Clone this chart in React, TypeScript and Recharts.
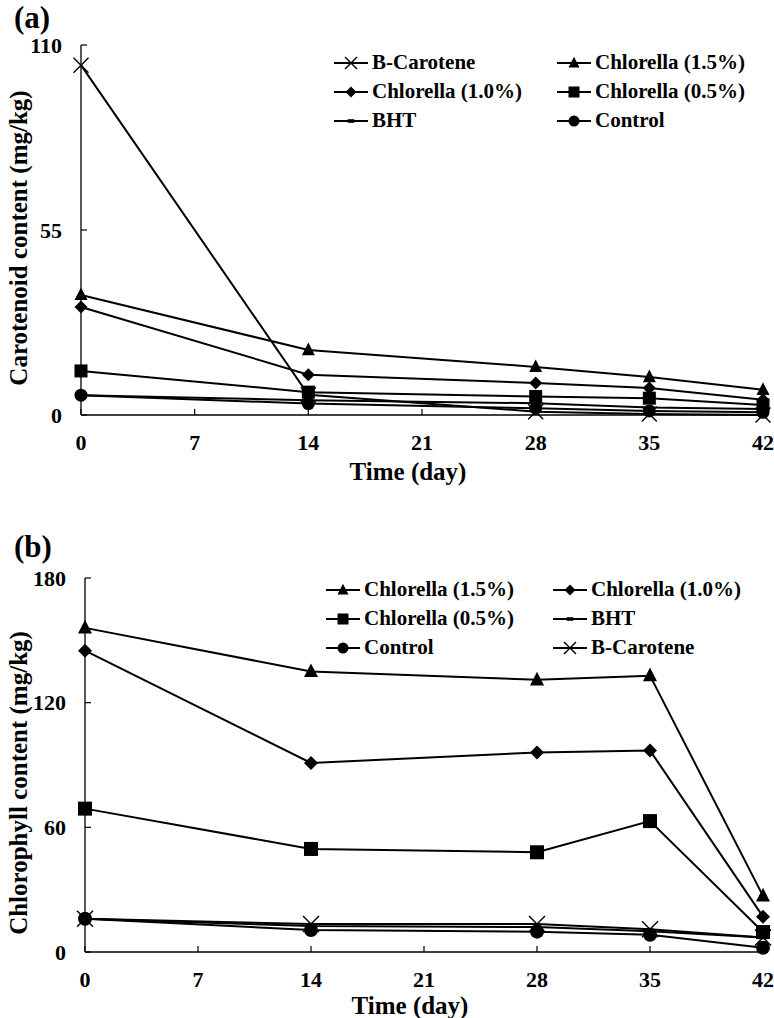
import React from "react";
import { LineChart, Line, XAxis, YAxis } from "recharts";

// sampling days
const days = [0, 14, 28, 35, 42];
const dayTicks = [0, 7, 14, 21, 28, 35, 42];

// (a) carotenoid content, mg/kg
const carBeta = [104, 6.0, 1.0, 0.3, 0];
const carChl15 = [35.7, 19.3, 14.3, 11.3, 7.5];
const carChl10 = [32.1, 12.0, 9.5, 8.0, 4.5];
const carChl05 = [13.1, 6.8, 5.5, 5.0, 3.0];
const carBht = [5.9, 4.4, 3.5, 2.2, 1.8];
const carControl = [5.9, 3.4, 2.0, 1.2, 0.8];
const carTicks = [0, 55, 110];

// (b) chlorophyll content, mg/kg
const chlChl15 = [156, 135, 131, 133, 27];
const chlChl10 = [145, 91, 96, 97, 17];
const chlChl05 = [69, 49.6, 48, 63, 9.6];
const chlBht = [16, 12.5, 12, 10, 7];
const chlControl = [16, 10.6, 9.8, 8.3, 2];
const chlBeta = [16, 13.5, 13.5, 11, 7];
const chlTicks = [0, 60, 120, 180];

const FONT = '"Liberation Serif", "Times New Roman", serif';

type Shape = "cross" | "triangle" | "diamond" | "square" | "dash" | "circle";

interface Series {
  key: string;
  name: string;
  shape: Shape;
  values: number[];
}

function Marker({ shape, cx, cy, s }: { shape: Shape; cx: number; cy: number; s: number }) {
  switch (shape) {
    case "triangle":
      return (
        <polygon
          points={`${cx},${cy - s * 1.15} ${cx - s},${cy + s * 0.8} ${cx + s},${cy + s * 0.8}`}
          fill="#000"
        />
      );
    case "diamond":
      return (
        <polygon
          points={`${cx},${cy - s} ${cx + s},${cy} ${cx},${cy + s} ${cx - s},${cy}`}
          fill="#000"
        />
      );
    case "square":
      return <rect x={cx - s} y={cy - s} width={s * 2} height={s * 2} fill="#000" />;
    case "circle":
      return <circle cx={cx} cy={cy} r={s} fill="#000" />;
    case "dash":
      return <rect x={cx - s * 0.6} y={cy - 1.8} width={s * 1.2} height={3.6} fill="#000" />;
    case "cross":
    default:
      return (
        <g stroke="#000" strokeWidth={1.4}>
          <line x1={cx - s} y1={cy - s} x2={cx + s} y2={cy + s} />
          <line x1={cx - s} y1={cy + s} x2={cx + s} y2={cy - s} />
        </g>
      );
  }
}

function LegendGrid({ items, colWidth }: { items: Series[]; colWidth: number }) {
  return (
    <div
      style={{
        display: "grid",
        gridTemplateColumns: `${colWidth}px ${colWidth}px`,
        fontFamily: FONT,
        fontWeight: "bold",
        fontSize: 21,
        color: "#000",
      }}
    >
      {items.map((it) => (
        <div key={it.key} style={{ display: "flex", alignItems: "center", height: 29 }}>
          <svg width={38} height={20} style={{ flex: "none" }}>
            <line x1={0} x2={34} y1={10} y2={10} stroke="#000" strokeWidth={2} />
            <Marker shape={it.shape} cx={17} cy={10} s={it.shape === "cross" ? 6 : 5.5} />
          </svg>
          <span style={{ whiteSpace: "nowrap" }}>{it.name}</span>
        </div>
      ))}
    </div>
  );
}

const tickFont = { fontFamily: FONT, fontWeight: "bold" as const, fontSize: 22 };

const XTick = ({ x, y, payload }: any) => (
  <text
    x={x}
    y={y}
    textAnchor="middle"
    dominantBaseline="central"
    fontFamily={FONT}
    fontWeight="bold"
    fontSize={22}
    style={tickFont}
    fill="#000"
  >
    {payload.value}
  </text>
);

const YTick = ({ x, y, payload }: any) => (
  <text
    x={x}
    y={y}
    textAnchor="end"
    dominantBaseline="central"
    fontFamily={FONT}
    fontWeight="bold"
    fontSize={22}
    style={tickFont}
    fill="#000"
  >
    {payload.value}
  </text>
);

interface PanelProps {
  tag: string;
  tagCenter: number;
  yLabel: string;
  series: Series[];
  yTicks: number[];
  height: number;
  plotTop: number;
  xAxisHeight: number;
  yAxisWidth: number;
  legendTop: number;
  legendLeft: number;
  legendCol: number;
  yLabelShift: number;
  xLabelDy: number;
  markerSize: number;
}

function Panel(p: PanelProps) {
  const rows = days.map((d, i) => {
    const r: Record<string, number> = { day: d };
    p.series.forEach((s) => (r[s.key] = s.values[i]));
    return r;
  });
  const yMax = p.yTicks[p.yTicks.length - 1];

  return (
    <div style={{ position: "relative", width: 774, height: p.height }}>
      <div
        style={{
          position: "absolute",
          left: 14,
          top: p.tagCenter - 17,
          fontFamily: FONT,
          fontWeight: "bold",
          fontSize: 31,
          lineHeight: "34px",
          zIndex: 2,
        }}
      >
        {p.tag}
      </div>
      <div style={{ position: "absolute", top: p.legendTop, left: p.legendLeft, zIndex: 2 }}>
        <LegendGrid items={p.series} colWidth={p.legendCol} />
      </div>
      <LineChart
        width={774}
        height={p.height}
        data={rows}
        margin={{ top: p.plotTop, right: 11, bottom: 0, left: 0 }}
      >
        <XAxis
          dataKey="day"
          type="number"
          domain={[0, 42]}
          ticks={dayTicks}
          height={p.xAxisHeight}
          tickSize={-6}
          tickMargin={33}
          tick={<XTick />}
          stroke="#000"
          strokeWidth={1.3}
          tickLine={{ stroke: "#000", strokeWidth: 1.2 }}
          label={{
            content: ({ viewBox }: any) => (
              <text
                x={viewBox.x + viewBox.width / 2 - 14}
                y={viewBox.y + p.xLabelDy}
                textAnchor="middle"
                dominantBaseline="central"
                style={{ fontFamily: FONT, fontWeight: "bold", fontSize: 25 }}
                fill="#000"
              >
                Time (day)
              </text>
            ),
          }}
        />
        <YAxis
          type="number"
          domain={[0, yMax]}
          ticks={p.yTicks}
          width={p.yAxisWidth}
          tickSize={-6}
          tickMargin={25}
          tick={<YTick />}
          stroke="#000"
          strokeWidth={1.3}
          tickLine={{ stroke: "#000", strokeWidth: 1.2 }}
          label={{
            content: ({ viewBox }: any) => {
              const cx = 18;
              const cy = viewBox.y + viewBox.height / 2 + p.yLabelShift;
              return (
                <text
                  x={cx}
                  y={cy}
                  transform={`rotate(-90, ${cx}, ${cy})`}
                  textAnchor="middle"
                  dominantBaseline="central"
                  style={{ fontFamily: FONT, fontWeight: "bold", fontSize: 25 }}
                  fill="#000"
                >
                  {p.yLabel}
                </text>
              );
            },
          }}
        />
        <XAxis
          xAxisId="top"
          orientation="top"
          type="number"
          domain={[0, 42]}
          height={0}
          tick={false}
          tickLine={false}
          stroke="#000"
          strokeWidth={1.3}
        />
        <YAxis
          yAxisId="right"
          orientation="right"
          type="number"
          domain={[0, yMax]}
          width={0}
          tick={false}
          tickLine={false}
          stroke="#000"
          strokeWidth={1.3}
        />
        {p.series.map((s) => (
          <Line
            key={s.key}
            dataKey={s.key}
            name={s.name}
            type="linear"
            stroke="#000"
            strokeWidth={2}
            isAnimationActive={false}
            dot={(d: any) => (
              <Marker
                key={`${s.key}-${d.index}`}
                shape={s.shape}
                cx={d.cx}
                cy={d.cy}
                s={s.shape === "cross" ? p.markerSize + 1 : p.markerSize}
              />
            )}
            activeDot={false}
          />
        ))}
      </LineChart>
    </div>
  );
}

const carSeries: Series[] = [
  { key: "beta", name: "B-Carotene", shape: "cross", values: carBeta },
  { key: "c15", name: "Chlorella (1.5%)", shape: "triangle", values: carChl15 },
  { key: "c10", name: "Chlorella (1.0%)", shape: "diamond", values: carChl10 },
  { key: "c05", name: "Chlorella (0.5%)", shape: "square", values: carChl05 },
  { key: "bht", name: "BHT", shape: "dash", values: carBht },
  { key: "ctl", name: "Control", shape: "circle", values: carControl },
];

const chlSeries: Series[] = [
  { key: "c15", name: "Chlorella (1.5%)", shape: "triangle", values: chlChl15 },
  { key: "c10", name: "Chlorella (1.0%)", shape: "diamond", values: chlChl10 },
  { key: "c05", name: "Chlorella (0.5%)", shape: "square", values: chlChl05 },
  { key: "bht", name: "BHT", shape: "dash", values: chlBht },
  { key: "ctl", name: "Control", shape: "circle", values: chlControl },
  { key: "beta", name: "B-Carotene", shape: "cross", values: chlBeta },
];

export default function App() {
  return (
    <div style={{ position: "absolute", top: 0, left: 0, width: 774, height: 1018, background: "#fff" }}>
      <Panel
        tag="(a)"
        tagCenter={18}
        yLabel="Carotenoid content (mg/kg)"
        series={carSeries}
        yTicks={carTicks}
        height={500}
        plotTop={45}
        xAxisHeight={85}
        yAxisWidth={81}
        legendTop={48}
        legendLeft={334}
        legendCol={223}
        yLabelShift={8}
        xLabelDy={56}
        markerSize={6.5}
      />
      <Panel
        tag="(b)"
        tagCenter={47}
        yLabel="Chlorophyll content (mg/kg)"
        series={chlSeries}
        yTicks={chlTicks}
        height={518}
        plotTop={78}
        xAxisHeight={66}
        yAxisWidth={85}
        legendTop={75}
        legendLeft={326}
        legendCol={227}
        yLabelShift={18}
        xLabelDy={53}
        markerSize={7}
      />
    </div>
  );
}
